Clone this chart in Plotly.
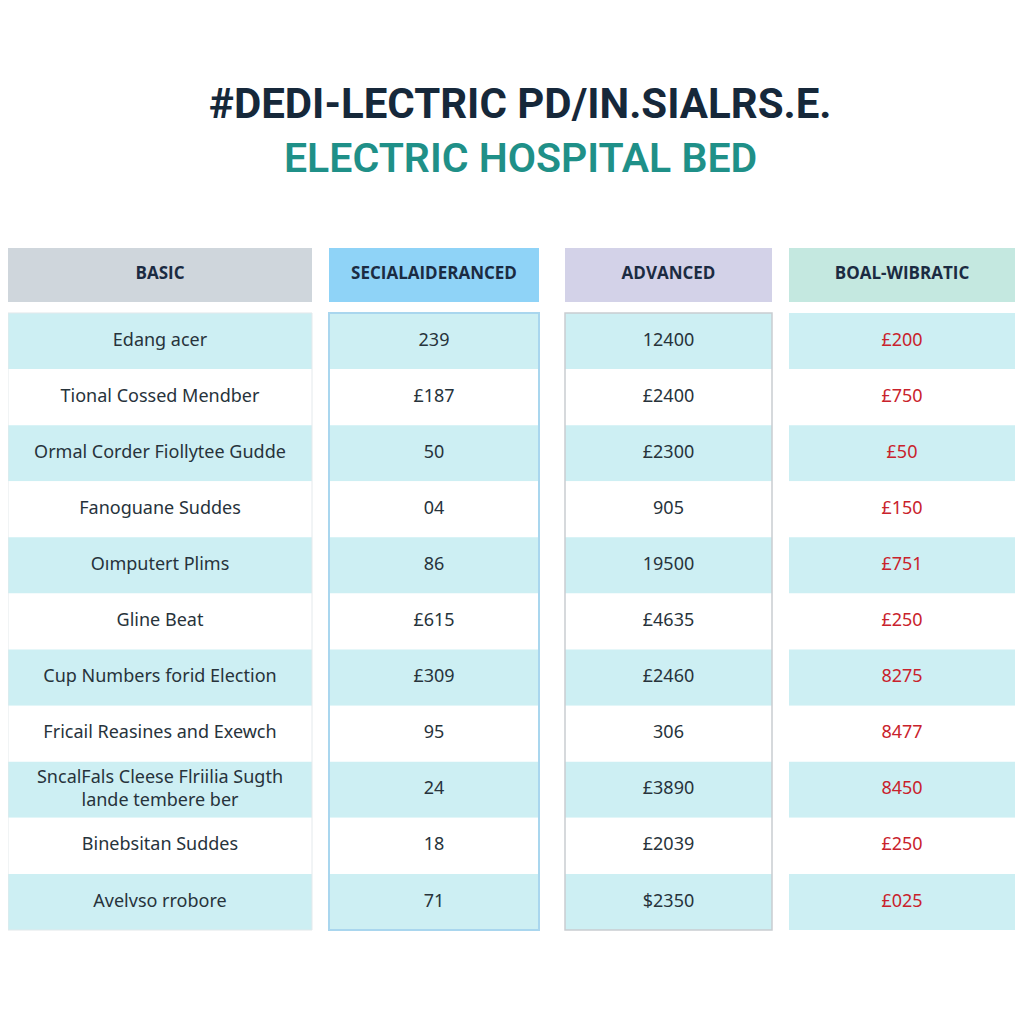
import plotly.graph_objects as go

# ---------------- data ----------------
title_line1 = "#DEDI-LECTRIC PD/IN.SIALRS.E."
title_line2 = "ELECTRIC HOSPITAL BED"

columns = ["BASIC", "SECIALAIDERANCED", "ADVANCED", "BOAL-WIBRATIC"]

basic = [
    "Edang acer",
    "Tional Cossed Mendber",
    "Ormal Corder Fiollytee Gudde",
    "Fanoguane Suddes",
    "Oımputert Plims",
    "Gline Beat",
    "Cup Numbers forid Election",
    "Fricail Reasines and Exewch",
    "SncalFals Cleese Flriilia Sugth<br>lande tembere ber",
    "Binebsitan Suddes",
    "Avelvso rrobore",
]
secialaideranced = ["239", "£187", "50", "04", "86", "£615", "£309", "95", "24", "18", "71"]
advanced = ["12400", "£2400", "£2300", "905", "19500", "£4635", "£2460", "306", "£3890", "£2039", "$2350"]
boal_wibratic = ["£200", "£750", "£50", "£150", "£751", "£250", "8275", "8477", "8450", "£250", "£025"]

column_values = [basic, secialaideranced, advanced, boal_wibratic]

# ---------------- styling / layout ----------------
# page offset of the plot (browser body margin)
page_off = 8
col_left = [8, 329, 565, 789]
col_width = [304, 210, 207, 226]
header_fill = ["#cfd6dc", "#8fd3f7", "#d3d2e8", "#c4e8e0"]
row_fill_odd = "#cdeff3"
row_fill_even = "#ffffff"
text_colors = ["#27333b", "#27333b", "#27333b", "#c9222c"]
header_text_color = "#1b2b42"

n_rows = len(basic)
rows = list(range(n_rows))
header_y = -1.176
header_width = 0.963

fig = go.Figure()

for c in range(len(columns)):
    left = col_left[c]
    w = col_width[c]
    fills = [row_fill_odd if i % 2 == 0 else row_fill_even for i in rows]
    fig.add_trace(go.Bar(
        orientation="h", y=rows, x=[w] * n_rows, base=[left] * n_rows,
        width=1.0, marker=dict(color=fills, line=dict(width=0)),
        hoverinfo="skip", showlegend=False,
    ))
    fig.add_trace(go.Bar(
        orientation="h", y=[header_y], x=[w], base=[left],
        width=header_width, marker=dict(color=header_fill[c], line=dict(width=0)),
        hoverinfo="skip", showlegend=False,
    ))

# column outlines
outline_styles = [("#e4e9ec", 1), ("#a9d6ee", 2), ("#c9cdd1", 1.5), None]
for c, st in enumerate(outline_styles):
    if st is None:
        continue
    fig.add_trace(go.Bar(
        orientation="h", y=[(n_rows - 1) / 2], x=[col_width[c]], base=[col_left[c]],
        width=n_rows, marker=dict(color="rgba(0,0,0,0)", line=dict(color=st[0], width=st[1])),
        hoverinfo="skip", showlegend=False,
    ))

# texts
for c in range(len(columns)):
    center = col_left[c] + col_width[c] / 2
    fig.add_trace(go.Scatter(
        x=[center] * n_rows, y=rows, mode="text", text=column_values[c],
        textposition="middle center",
        textfont=dict(family="Noto Sans, Open Sans, sans-serif", size=18, color=text_colors[c]),
        hoverinfo="skip", showlegend=False,
    ))
    fig.add_trace(go.Scatter(
        x=[center], y=[header_y], mode="text", text=[columns[c]],
        textposition="middle center",
        textfont=dict(family="Open Sans, sans-serif", size=17, color=header_text_color, weight="bold"),
        hoverinfo="skip", showlegend=False,
    ))

# title
fig.add_annotation(
    text=title_line1, x=0.5, y=1 - (103 - page_off) / 1024, xref="paper", yref="paper",
    xanchor="center", yanchor="middle", showarrow=False,
    font=dict(family="Roboto, sans-serif", size=42, color="#16283a", weight="bold"),
)
fig.add_annotation(
    text=title_line2, x=0.5, y=1 - (158 - page_off) / 1024, xref="paper", yref="paper",
    xanchor="center", yanchor="middle", showarrow=False,
    font=dict(family="Roboto, sans-serif", size=41, color="#1f9088", weight=600),
)

row_px = 56.1
row0_px = 341 - page_off
fig.update_layout(
    width=1024, height=1024,
    margin=dict(l=0, r=0, t=0, b=0),
    paper_bgcolor="white", plot_bgcolor="white",
    barmode="overlay",
    xaxis=dict(range=[page_off, 1024 + page_off], visible=False, fixedrange=True),
    yaxis=dict(range=[(1024 - row0_px) / row_px, -row0_px / row_px], visible=False, fixedrange=True),
)

fig.write_html("out.html")
